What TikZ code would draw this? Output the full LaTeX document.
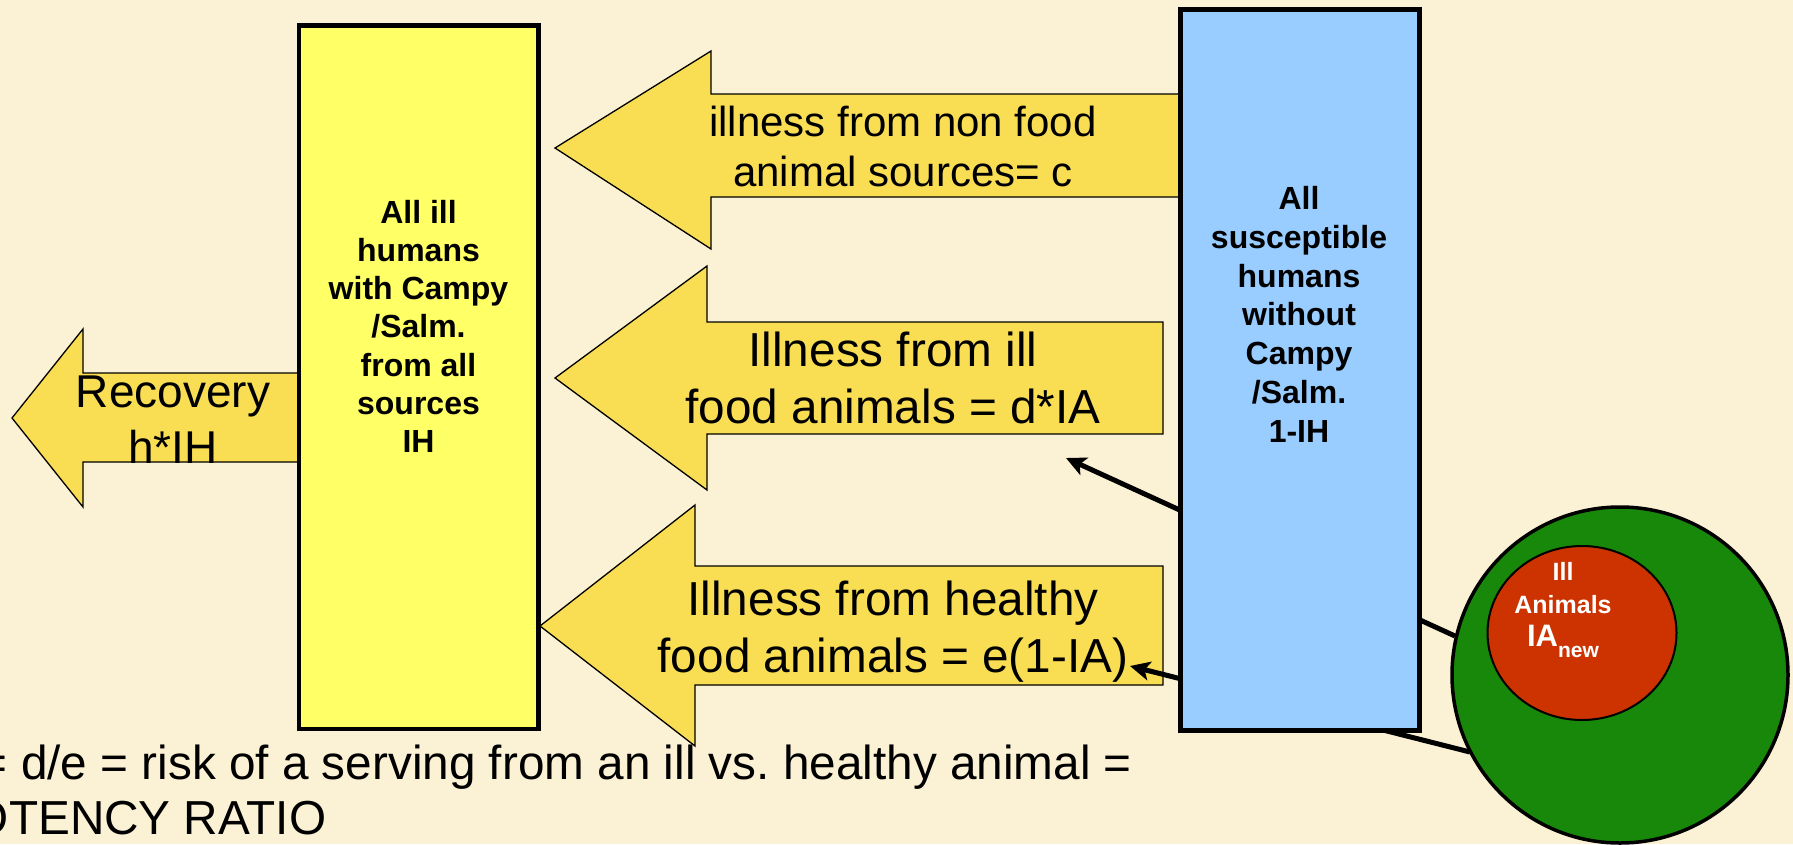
\documentclass[tikz,border=0pt]{standalone}
\usepackage{fontspec}
\setmainfont{Liberation Sans}
\usetikzlibrary{arrows.meta,shapes.geometric}
\definecolor{bgc}{RGB}{251,241,212}
\definecolor{yboxc}{RGB}{255,255,102}
\definecolor{arrowc}{RGB}{249,222,84}
\definecolor{blueboxc}{RGB}{153,204,255}
\definecolor{greenc}{RGB}{24,136,10}
\definecolor{redc}{RGB}{204,51,0}
\newcommand\stacklines[1]{\vtop{\lineskiplimit=-100pt\halign{\hfil##\hfil\cr#1\crcr}}}
\frenchspacing
\begin{document}
\begin{tikzpicture}[x=1pt,y=-1pt,
  bigarrow/.style={fill=arrowc, draw=black, line width=1.3pt, line join=miter},
  lbl/.style={inner sep=0pt, outer sep=0pt, anchor=base},
  link/.style={line width=5pt, -{Stealth[length=20pt,width=19pt,inset=5pt]}},
]
\useasboundingbox (0,0) rectangle (1793,844);
\fill[bgc] (0,0) rectangle (1793,844);

% big yellow arrows
\draw[bigarrow] (1190,94) -- (711,94) -- (711,51) -- (555,148) -- (711,249) -- (711,197) -- (1190,197) -- cycle;
\draw[bigarrow] (1163,322) -- (707,322) -- (707,266) -- (555,378) -- (707,490) -- (707,434) -- (1163,434) -- cycle;
\draw[bigarrow] (1163,566) -- (695,566) -- (695,505) -- (540,626) -- (695,746) -- (695,685) -- (1163,685) -- cycle;
\draw[bigarrow] (299,373) -- (83,373) -- (83,329) -- (12,418) -- (83,507) -- (83,462) -- (299,462) -- cycle;

\node[lbl, font=\fontsize{42}{50}\selectfont] (nonfood) at (903,136) {\stacklines{illness from non food\cr animal sources= c}};
\node[lbl, font=\fontsize{47.7}{57}\selectfont] (illfood) at (893,366) {\stacklines{Illness from ill\cr food animals = d*IA}};
\node[lbl, font=\fontsize{47.7}{57}\selectfont] (healthyfood) at (893,615) {\stacklines{Illness from healthy\cr food animals = e(1-IA)}};
\node[lbl, font=\fontsize{46}{56}\selectfont] (recovery) at (173,407) {\stacklines{Recovery\cr h*IH}};

% connectors from the animal circle
\coordinate (s1) at (1455,636);
\coordinate (t1) at (1066,458);
\coordinate (s2) at (1470,752);
\coordinate (t2) at (1130,666);
\draw[link] (s1) -- (t1);
\draw[link] (s2) -- (t2);

% boxes
\node[draw, line width=4.5pt, fill=yboxc, minimum width=239.5pt, minimum height=703.5pt, inner sep=0pt] (illbox) at (418.75,377.25) {};
\node[lbl, font=\fontsize{32}{38.3}\selectfont\bfseries] (illtext) at (418.5,223) {\stacklines{All ill\cr humans\cr with Campy\cr /Salm.\cr from all\cr sources\cr IH}};

\node[draw, line width=5pt, fill=blueboxc, minimum width=239pt, minimum height=721pt, inner sep=0pt] (suscbox) at (1299.5,369.5) {};
\node[lbl, font=\fontsize{32}{38.8}\selectfont\bfseries] (susctext) at (1299,209.5) {\stacklines{All\cr susceptible\cr humans\cr without\cr Campy\cr /Salm.\cr 1-IH}};

% animals
\node[circle, draw, line width=3.5pt, fill=greenc, minimum size=336pt, inner sep=0pt] (flock) at (1620,675) {};
\node[ellipse, draw, line width=2pt, fill=redc, minimum width=189pt, minimum height=174pt, inner sep=0pt] (illanimals) at (1582,633) {};
\node[lbl, text=white, font=\fontsize{25}{33}\selectfont\bfseries] (illanimtext) at (1563,580) {\stacklines{Ill\cr Animals\cr {\fontsize{31}{33}\selectfont IA}\raisebox{-11pt}{\fontsize{21}{25}\selectfont new}}};

% bottom note
\node[lbl, anchor=base west, font=\fontsize{47.7}{57}\selectfont] (ratio1) at (-20,779) {= d/e = risk of a serving from an ill vs. healthy animal =};
\node[lbl, anchor=base west, font=\fontsize{47.7}{57}\selectfont] (ratio2) at (-28,834) {OTENCY RATIO};
\end{tikzpicture}
\end{document}
